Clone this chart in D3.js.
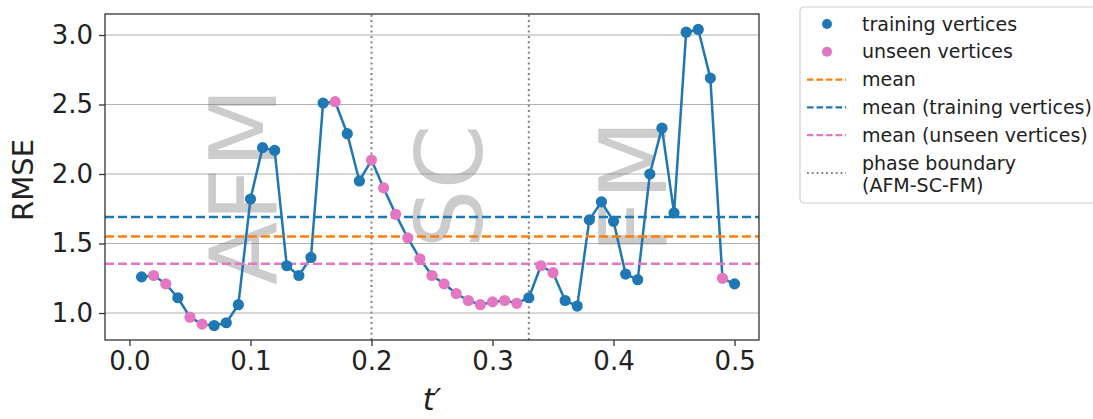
<!DOCTYPE html>
<html>
<head>
<meta charset="utf-8">
<script src="https://cdn.jsdelivr.net/npm/d3@7"></script>
<style>
  body { margin: 0; background: #fff; }
  svg { font-family: "DejaVu Sans", sans-serif; }
</style>
</head>
<body>
<div id="chart"></div>
<script>
// t' values for every vertex
var tValues = [0.01, 0.02, 0.03, 0.04, 0.05, 0.06, 0.07, 0.08, 0.09, 0.10,
               0.11, 0.12, 0.13, 0.14, 0.15, 0.16, 0.17, 0.18, 0.19, 0.20,
               0.21, 0.22, 0.23, 0.24, 0.25, 0.26, 0.27, 0.28, 0.29, 0.30,
               0.31, 0.32, 0.33, 0.34, 0.35, 0.36, 0.37, 0.38, 0.39, 0.40,
               0.41, 0.42, 0.43, 0.44, 0.45, 0.46, 0.47, 0.48, 0.49, 0.50];
var rmseValues = [1.26, 1.27, 1.21, 1.11, 0.97, 0.92, 0.91, 0.93, 1.06, 1.82,
                  2.19, 2.17, 1.34, 1.27, 1.40, 2.51, 2.52, 2.29, 1.95, 2.10,
                  1.90, 1.71, 1.54, 1.39, 1.27, 1.21, 1.14, 1.09, 1.06, 1.08,
                  1.09, 1.07, 1.11, 1.34, 1.29, 1.09, 1.05, 1.67, 1.80, 1.66,
                  1.28, 1.24, 2.00, 2.33, 1.72, 3.02, 3.04, 2.69, 1.25, 1.21];
// "T" = training vertex, "U" = unseen vertex
var vertexType = ["T","U","U","T","U","U","T","T","T","T",
                  "T","T","T","T","T","T","U","T","T","U",
                  "U","U","U","U","U","U","U","U","U","U",
                  "U","U","T","U","U","T","T","T","T","T",
                  "T","T","T","T","T","T","T","T","U","T"];
var meanAll = 1.55, meanTraining = 1.69, meanUnseen = 1.355;
var phaseBoundaries = [0.2, 0.33];
var phaseLabels = ["AFM", "SC", "FM"];
var xTicks = [0.0, 0.1, 0.2, 0.3, 0.4, 0.5];
var yTicks = [1.0, 1.5, 2.0, 2.5, 3.0];

var blue = "#1f77b4", pink = "#e377c2", orange = "#ff7f0e";
var W = 1093, H = 419;
var margin = {top: 14, left: 105, right: 334, bottom: 79};

var svg = d3.select("#chart").append("svg")
    .attr("width", W).attr("height", H);

var x = d3.scaleLinear().domain([-0.0202, 0.5202]).range([margin.left, W - margin.right]);
var y = d3.scaleLinear().domain([0.806, 3.151]).range([H - margin.bottom, margin.top]);

var data = tValues.map(function(t, i) { return {t: t, v: rmseValues[i], type: vertexType[i]}; });

// grid
svg.append("g").selectAll("line").data(yTicks).enter().append("line")
    .attr("x1", x.range()[0]).attr("x2", x.range()[1])
    .attr("y1", function(d) { return y(d); }).attr("y2", function(d) { return y(d); })
    .attr("stroke", "#b0b0b0").attr("stroke-width", 1);

// background phase names
var labelT = [0.093, 0.263, 0.415];
svg.append("g").selectAll("text").data(phaseLabels).enter().append("text")
    .attr("transform", function(d, i) { return "translate(" + x(labelT[i]) + "," + y(1.91) + ") rotate(-90)"; })
    .attr("text-anchor", "middle")
    .attr("dy", "0.365em")
    .style("font-size", "93px")
    .attr("fill", "#808080").attr("fill-opacity", 0.4)
    .text(function(d) { return d; });

// phase boundaries
svg.append("g").selectAll("line").data(phaseBoundaries).enter().append("line")
    .attr("x1", function(d) { return x(d); }).attr("x2", function(d) { return x(d); })
    .attr("y1", y.range()[0]).attr("y2", y.range()[1])
    .attr("stroke", "#808080").attr("stroke-width", 2)
    .attr("stroke-dasharray", "2,3.3");

// data line
svg.append("path").datum(data)
    .attr("fill", "none").attr("stroke", blue).attr("stroke-width", 2.5)
    .attr("stroke-linejoin", "round")
    .attr("d", d3.line().x(function(d) { return x(d.t); }).y(function(d) { return y(d.v); }));

// means
var means = [{v: meanAll, c: orange}, {v: meanTraining, c: blue}, {v: meanUnseen, c: pink}];
svg.append("g").selectAll("line").data(means).enter().append("line")
    .attr("x1", x.range()[0]).attr("x2", x.range()[1])
    .attr("y1", function(d) { return y(d.v); }).attr("y2", function(d) { return y(d.v); })
    .attr("stroke", function(d) { return d.c; }).attr("stroke-width", 2.5)
    .attr("stroke-dasharray", "9,4");

// markers
svg.append("g").selectAll("circle").data(data.filter(function(d) { return d.type == "T"; }))
    .enter().append("circle")
    .attr("cx", function(d) { return x(d.t); }).attr("cy", function(d) { return y(d.v); })
    .attr("r", 5.6).attr("fill", blue);
svg.append("g").selectAll("circle").data(data.filter(function(d) { return d.type == "U"; }))
    .enter().append("circle")
    .attr("cx", function(d) { return x(d.t); }).attr("cy", function(d) { return y(d.v); })
    .attr("r", 5.6).attr("fill", pink);

// frame
svg.append("rect")
    .attr("x", x.range()[0]).attr("y", y.range()[1])
    .attr("width", x.range()[1] - x.range()[0]).attr("height", y.range()[0] - y.range()[1])
    .attr("fill", "none").attr("stroke", "#333").attr("stroke-width", 1.3);

// axes
var xAxis = svg.append("g")
    .attr("transform", "translate(0," + y.range()[0] + ")")
    .call(d3.axisBottom(x).tickValues(xTicks).tickFormat(d3.format(".1f")).tickSize(6).tickPadding(6));
var yAxis = svg.append("g")
    .attr("transform", "translate(" + x.range()[0] + ",0)")
    .call(d3.axisLeft(y).tickValues(yTicks).tickFormat(d3.format(".1f")).tickSize(6).tickPadding(6));
[xAxis, yAxis].forEach(function(a) {
    a.select(".domain").remove();
    a.selectAll("line").attr("stroke", "#333").attr("stroke-width", 1.3);
    a.selectAll("text").attr("fill", "#222")
        .style("font-family", "DejaVu Sans").style("font-size", "26px");
});

svg.append("text")
    .attr("transform", "translate(33,180) rotate(-90)")
    .attr("text-anchor", "middle")
    .style("font-size", "29px").attr("fill", "#222")
    .text("RMSE");
svg.append("text")
    .attr("x", x(0.25)).attr("y", 410)
    .attr("text-anchor", "middle")
    .style("font-size", "30px").style("font-style", "italic").attr("fill", "#222")
    .text("t′");

// legend
var legend = svg.append("g");
legend.append("rect")
    .attr("x", 800).attr("y", 7).attr("width", 310).attr("height", 196)
    .attr("rx", 4).attr("fill", "#fff").attr("stroke", "#d0d0d0").attr("stroke-width", 1.2);
var legItems = [
    {label: "training vertices", kind: "dot", c: blue},
    {label: "unseen vertices", kind: "dot", c: pink},
    {label: "mean", kind: "dash", c: orange},
    {label: "mean (training vertices)", kind: "dash", c: blue},
    {label: "mean (unseen vertices)", kind: "dash", c: pink},
    {label: "phase boundary", label2: "(AFM-SC-FM)", kind: "dot-line", c: "#808080"}
];
legItems.forEach(function(d, i) {
    var yy = 24 + i * 27.8;
    var g = legend.append("g");
    if (d.kind == "dot") {
        g.append("circle").attr("cx", 827).attr("cy", yy).attr("r", 5).attr("fill", d.c);
    } else if (d.kind == "dash") {
        g.append("line").attr("x1", 807).attr("x2", 846).attr("y1", yy).attr("y2", yy)
            .attr("stroke", d.c).attr("stroke-width", 2.2).attr("stroke-dasharray", "6.5,3");
    } else {
        g.append("line").attr("x1", 807).attr("x2", 846).attr("y1", yy + 10).attr("y2", yy + 10)
            .attr("stroke", d.c).attr("stroke-width", 1.8).attr("stroke-dasharray", "1.8,3");
    }
    g.append("text").attr("x", 862).attr("y", yy).attr("dy", "0.35em")
        .style("font-size", "19px").attr("fill", "#222").text(d.label);
    if (d.label2) {
        g.append("text").attr("x", 862).attr("y", yy + 22).attr("dy", "0.35em")
            .style("font-size", "19px").attr("fill", "#222").text(d.label2);
    }
});
</script>
</body>
</html>
